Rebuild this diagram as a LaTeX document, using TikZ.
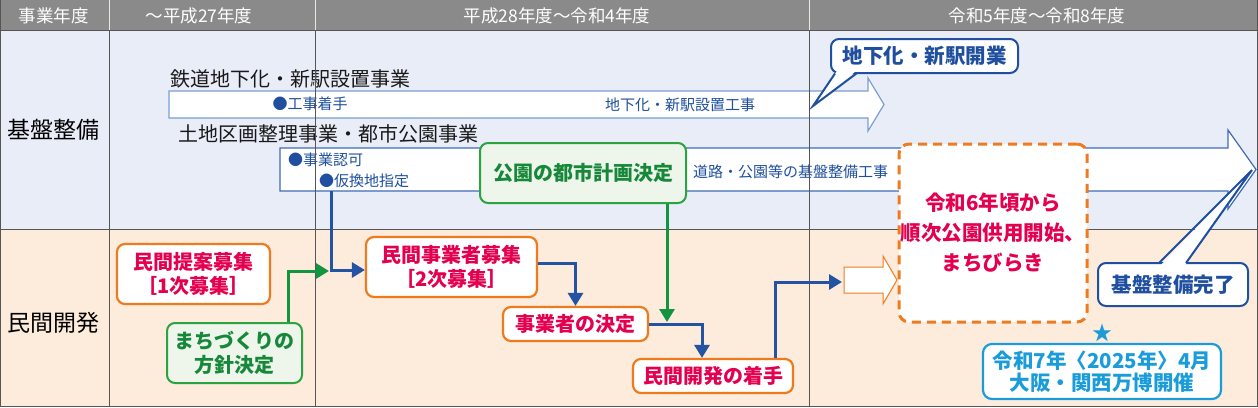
\documentclass[tikz,border=0pt]{standalone}
\usepackage{fontspec}
\setmainfont{Noto Sans CJK JP}
\usetikzlibrary{arrows.meta}
\definecolor{hdr}{HTML}{8A8A8A}
\definecolor{rowA}{HTML}{E8EDF8}
\definecolor{rowB}{HTML}{FDEBDB}
\definecolor{gridc}{HTML}{555555}
\definecolor{arrA}{HTML}{7C9DD3}
\definecolor{arrB}{HTML}{3F6BB6}
\definecolor{tblue}{HTML}{1F4F9E}
\definecolor{orng}{HTML}{EE7B1F}
\definecolor{mag}{HTML}{E4004F}
\definecolor{grn}{HTML}{2BA341}
\definecolor{tgrn}{HTML}{17883A}
\definecolor{gfill}{HTML}{EEF6EC}
\definecolor{lblue}{HTML}{1A9CDB}
\definecolor{connc}{HTML}{2553A3}
\definecolor{gconn}{HTML}{139440}
\begin{document}
\begin{tikzpicture}[x=1pt,y=-1pt,
  obox/.style={draw=orng, line width=2.2pt, fill=white, rounded corners=8pt, text=mag, font=\bfseries\fontsize{20}{24}\selectfont, align=center, inner sep=0pt},
  gbox/.style={draw=grn, line width=2pt, fill=gfill, rounded corners=8pt, text=tgrn, font=\bfseries\fontsize{20}{24}\selectfont, align=center, inner sep=0pt},
  cbox/.style={draw=tblue, line width=2pt, fill=white, rounded corners=8pt, text=tblue, font=\bfseries\fontsize{20.5}{24}\selectfont, inner sep=0pt},
  small/.style={text=tblue, font=\fontsize{15}{16}\selectfont, inner sep=0pt},
  hdrtext/.style={text=white, font=\fontsize{17.5}{20}\selectfont, inner sep=0pt},
  rowlabel/.style={text=black, font=\fontsize{23}{26}\selectfont, inner sep=0pt},
  title/.style={text=black!90, font=\fontsize{20}{24}\selectfont, inner sep=0pt, anchor=west},
  conn/.style={draw=connc, line width=3pt, -{Triangle[length=13pt,width=15pt]}},
  gconnS/.style={draw=gconn, line width=3pt, -{Triangle[length=13pt,width=15pt]}},
  grid/.style={draw=gridc, line width=1pt}
]
\useasboundingbox (0,0) rectangle (1258,407);
% backgrounds
\fill[rowA] (0,30) rectangle (1258,229);
\fill[rowB] (0,229) rectangle (1258,406);
\fill[hdr] (0,0) rectangle (1258,30);
% header
\node[hdrtext] (h0) at (54,16) {事業年度};
\node[hdrtext] (h1) at (199,16) {～平成27年度};
\node[hdrtext] (h2) at (557,16) {平成28年度～令和4年度};
\node[hdrtext] (h3) at (1037,16) {令和5年度～令和8年度};
\foreach \x in {109,315,809} \draw[white!80!hdr, line width=1pt] (\x,0) -- (\x,30);
% row labels
\node[rowlabel] (r1) at (54,130) {基盤整備};
\node[rowlabel] (r2) at (54,323) {民間開発};
% rail arrow
\draw[arrA, line width=1.2pt, fill=white] (169,91) -- (868,91) -- (868,78) -- (884,104.5) -- (868,131) -- (868,118) -- (169,118) -- cycle;
\node[title] (t1) at (170,79) {鉄道地下化・新駅設置事業};
\node[small] (k1) at (310,104) {●工事着手};
\node[small] (k2) at (680,105) {地下化・新駅設置工事};
% land arrow
\draw[arrB, line width=1.2pt, fill=white] (280,148) -- (1228,148) -- (1228,130) -- (1256,169.5) -- (1228,209) -- (1228,191) -- (280,191) -- cycle;
\node[title] (t2) at (178,134) {土地区画整理事業・都市公園事業};
\node[small, anchor=west] (k3) at (288,160) {●事業認可};
\node[small, anchor=west] (k4) at (319,181) {●仮換地指定};
\node[small, anchor=west] (k5) at (693,172) {道路・公園等の基盤整備工事};
% grid lines
\draw[grid] (0,30) -- (1258,30);
\draw[grid] (0,229) -- (1258,229);
\foreach \x in {109,315,809} \draw[grid] (\x,30) -- (\x,406);
\draw[grid] (0.5,0) -- (0.5,406.5) -- (1257.5,406.5) -- (1257.5,0);
% boxes
\node[obox, minimum width=153pt, minimum height=60pt] (p1) at (193.5,274) {民間提案募集\\{}［1次募集］};
\node[obox, minimum width=171pt, minimum height=60pt] (p2) at (451.5,267) {民間事業者募集\\{}［2次募集］};
\node[obox, minimum width=145pt, minimum height=34pt] (p3) at (575.5,324) {事業者の決定};
\node[obox, minimum width=160pt, minimum height=34pt] (p4) at (713,376) {民間開発の着手};
\node[gbox, minimum width=206pt, minimum height=60pt] (g1) at (583,173) {公園の都市計画決定};
\node[gbox, minimum width=135pt, minimum height=60pt] (g2) at (234.5,353) {まちづくりの\\方針決定};
\node[draw=orng, line width=3pt, dash pattern=on 9pt off 6pt, fill=white, rounded corners=10pt, text=mag, font=\bfseries\fontsize{20.5}{30}\selectfont, align=center, inner sep=0pt, minimum width=188pt, minimum height=178pt] (d1) at (993,233) {令和6年頃から\\順次公園供用開始、\\まちびらき};
% block arrow
\draw[orng, line width=1pt, fill=white] (844,267) -- (883,267) -- (883,256) -- (897,280) -- (883,304) -- (883,293) -- (844,293) -- cycle;
\coordinate (ba) at (842,282);
% connectors
\coordinate (lb) at (331,191);
\coordinate (j) at (331,270);
\coordinate (gj) at (329,271);
\draw[gconnS] (g2.north -| 288,0) |- (gj);
\draw[conn] (lb) -- (j) -- (p2.west |- j);
\draw[conn] (p2.east |- 0,263) -| (p3.north);
\draw[conn] (p3.east) -| ([xshift=-11pt]p4.north);
\coordinate (gk) at (667,322);
\draw[gconnS] (g1.south -| gk) -- (gk);
\draw[conn] ([xshift=62pt]p4.north) |- (ba);
% callout 1
\node[cbox, minimum width=187pt, minimum height=34pt] (c1) at (924.5,56) {地下化・新駅開業};
\coordinate (c1tip) at (813,106);
\fill[white] (837,71) -- (c1tip) -- (856,71) -- cycle;
\draw[tblue, line width=2pt, line join=miter] (835,73.5) -- (c1tip) -- (857,73);
% callout 2
\node[cbox, minimum width=150pt, minimum height=43pt] (c2) at (1173,284.5) {基盤整備完了};
\coordinate (c2tip) at (1252,170);
\fill[white] (1161,265) -- (c2tip) -- (1185,265) -- cycle;
\draw[tblue, line width=2pt] (1159,263) -- (c2tip) -- (1186,263);
% expo
\node[text=lblue, font=\fontsize{20}{20}\selectfont, inner sep=0pt] (st) at (1102,333) {★};
\node[draw=lblue, line width=2.2pt, fill=white, rounded corners=9pt, text=lblue, font=\bfseries\fontsize{20.5}{22}\selectfont, align=center, inner sep=0pt, minimum width=238pt, minimum height=55pt] (ex) at (1102,371.5) {令和7年〈2025年〉4月\\大阪・関西万博開催};
\end{tikzpicture}
\end{document}
